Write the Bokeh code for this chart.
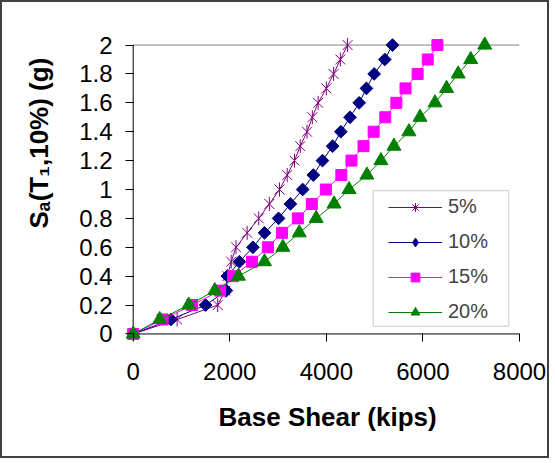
from math import pi
from bokeh.plotting import figure
from bokeh.models import (Range1d, FixedTicker, PrintfTickFormatter, Legend,
                          LegendItem, BoxAnnotation, Title)
from bokeh.embed import file_html
from bokeh.resources import INLINE

# ---- data ----
SA = [0.0, 0.1, 0.2, 0.3, 0.4, 0.5, 0.6, 0.7, 0.8, 0.9, 1.0,
      1.1, 1.2, 1.3, 1.4, 1.5, 1.6, 1.7, 1.8, 1.9, 2.0]
BS_5 = [0, 910, 1750, 1910, 1950, 2030, 2130, 2360, 2600, 2820, 3030,
        3190, 3340, 3460, 3600, 3710, 3830, 4000, 4150, 4290, 4440]
BS_10 = [0, 780, 1500, 1930, 1950, 2200, 2480, 2720, 3010, 3255, 3510,
         3730, 3920, 4130, 4300, 4490, 4680, 4830, 4990, 5210, 5370]
BS_15 = [0, 610, 1220, 1800, 2070, 2460, 2790, 3080, 3410, 3700, 3990,
         4310, 4520, 4770, 4980, 5220, 5450, 5640, 5890, 6100, 6300]
BS_20 = [0, 550, 1150, 1690, 2180, 2720, 3100, 3440, 3790, 4160, 4470,
         4840, 5130, 5400, 5710, 5940, 6250, 6490, 6730, 6990, 7280]
SERIES_LABELS = ["5%", "10%", "15%", "20%"]
X_TICKS = [0, 2000, 4000, 6000, 8000]
Y_TICKS = [0, 0.2, 0.4, 0.6, 0.8, 1, 1.2, 1.4, 1.6, 1.8, 2]
X_MIN, X_MAX = 0, 8000
Y_MIN, Y_MAX = 0, 2
X_TITLE = "Base Shear (kips)"
Y_TITLE = "Sₐ(T₁,10%) (g)"

FONT = "Liberation Sans"
C5, C10, C15, C20 = "#800080", "#000080", "#FF00FF", "#008000"

p = figure(width=549, height=458,
           x_range=Range1d(-242, X_MAX), y_range=Range1d(-0.08, 2.08),
           output_backend="svg", toolbar_location=None,
           min_border_left=118, min_border_right=32,
           min_border_top=31, min_border_bottom=115)
p.styles = {"border": "2px solid #404040"}
p.background_fill_color = "white"
p.border_fill_color = "white"
p.outline_line_color = None
p.xgrid.visible = False
p.ygrid.visible = False

for ax in (p.xaxis[0], p.yaxis[0]):
    ax.axis_line_color = None
    ax.major_tick_in = 12
    ax.major_tick_out = -4
    ax.minor_tick_line_color = None
    ax.major_tick_line_color = "black"
    ax.major_label_text_font = FONT
    ax.major_label_text_font_size = "24px"
    ax.major_label_text_color = "black"
p.xaxis.ticker = FixedTicker(ticks=X_TICKS)
p.yaxis.ticker = FixedTicker(ticks=Y_TICKS)
p.yaxis.formatter = PrintfTickFormatter(format="%g")
p.xaxis.formatter = PrintfTickFormatter(format="%g")
p.yaxis.major_label_standoff = 9
p.xaxis.major_label_standoff = 17

# axis titles (as side-panel titles, offset to match the reference)
p.add_layout(Title(text=X_TITLE, align="left", offset=97, standoff=39,
                   vertical_align="top", text_font=FONT,
                   text_font_style="bold", text_font_size="26px",
                   text_color="black"), "below")
p.add_layout(Title(text=Y_TITLE, align="left", offset=117, standoff=42,
                   vertical_align="top", text_font=FONT,
                   text_font_style="bold", text_font_size="26px",
                   text_color="black"), "left")

# axis lines and top gridline
p.line([X_MIN, X_MAX], [Y_MAX, Y_MAX], line_color="#808080", line_width=1)
p.line([X_MIN, X_MAX], [Y_MIN, Y_MIN], line_color="black", line_width=1)
p.line([X_MIN, X_MIN], [Y_MIN, Y_MAX], line_color="black", line_width=1)

# series
l5 = p.line(BS_5, SA, line_color=C5, line_width=1)
p.scatter(BS_5, SA, marker="x", size=14, line_color=C5, line_width=1)
p.scatter(BS_5, SA, marker="dash", size=14, angle=pi / 2,
          line_color=C5, line_width=1)
l10 = p.line(BS_10, SA, line_color=C10, line_width=1)
p.scatter(BS_10, SA, marker="square", size=9, angle=pi / 4,
          fill_color=C10, line_color=C10)
l15 = p.line(BS_15, SA, line_color=C15, line_width=1)
s15 = p.scatter(BS_15, SA, marker="square", size=11,
                fill_color=C15, line_color=C15)
l20 = p.line(BS_20, SA, line_color=C20, line_width=1)
s20 = p.scatter(BS_20, SA, marker="triangle", size=14,
                fill_color=C20, line_color=C20)

# legend-only marker renderers (not drawn in the plot)
g5 = p.scatter(BS_5, SA, marker="asterisk", size=13, line_color=C5,
               visible=False)
g10 = p.scatter(BS_10, SA, marker="diamond", size=15, fill_color=C10,
                line_color=C10, visible=False)

# legend frame and legend
box = BoxAnnotation(left=4970, right=7779, top=0.992, bottom=0.053,
                    fill_color="white", fill_alpha=1.0,
                    line_color="#555555", line_width=1)
p.add_layout(box)
legend = Legend(items=[
    LegendItem(label=SERIES_LABELS[0], renderers=[l5, g5]),
    LegendItem(label=SERIES_LABELS[1], renderers=[l10, g10]),
    LegendItem(label=SERIES_LABELS[2], renderers=[l15, s15]),
    LegendItem(label=SERIES_LABELS[3], renderers=[l20, s20]),
], location=(267, 22))
legend.label_text_font = FONT
legend.label_text_font_size = "20px"
legend.glyph_width = 54
legend.glyph_height = 22
legend.label_height = 22
legend.label_standoff = 6
legend.spacing = 12
legend.padding = 5
legend.margin = 0
legend.border_line_color = None
legend.background_fill_alpha = 0
p.add_layout(legend)

open("out.html", "w").write(file_html(p, INLINE))
